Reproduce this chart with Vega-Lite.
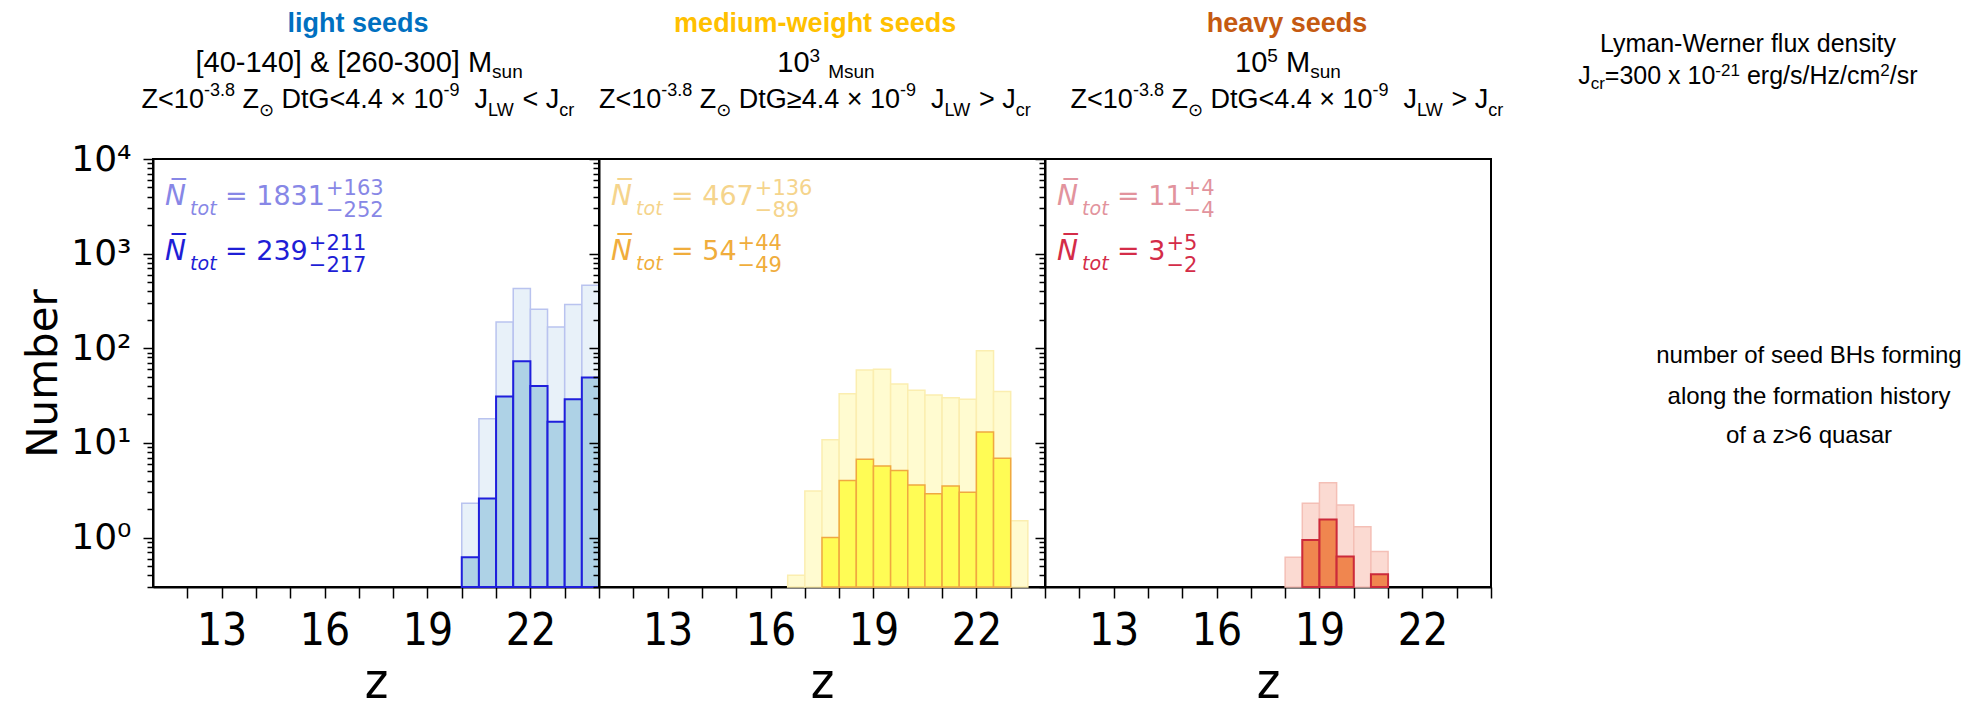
{
  "$schema": "https://vega.github.io/schema/vega-lite/v6.json",
  "background": "white",
  "padding": {"left": 21, "top": 8, "right": 0, "bottom": 0},
  "spacing": 0,
  "bounds": "flush",
  "datasets": {
    "hist": [
      {"seed": "light", "set": "all", "z_lo": 20, "z_hi": 20.5, "number": 2.3},
      {"seed": "light", "set": "all", "z_lo": 20.5, "z_hi": 21, "number": 18},
      {"seed": "light", "set": "all", "z_lo": 21, "z_hi": 21.5, "number": 190},
      {"seed": "light", "set": "all", "z_lo": 21.5, "z_hi": 22, "number": 427},
      {"seed": "light", "set": "all", "z_lo": 22, "z_hi": 22.5, "number": 258},
      {"seed": "light", "set": "all", "z_lo": 22.5, "z_hi": 23, "number": 168},
      {"seed": "light", "set": "all", "z_lo": 23, "z_hi": 23.5, "number": 290},
      {"seed": "light", "set": "all", "z_lo": 23.5, "z_hi": 24, "number": 463},
      {"seed": "light", "set": "sub", "z_lo": 20, "z_hi": 20.5, "number": 0.62},
      {"seed": "light", "set": "sub", "z_lo": 20.5, "z_hi": 21, "number": 2.58},
      {"seed": "light", "set": "sub", "z_lo": 21, "z_hi": 21.5, "number": 31},
      {"seed": "light", "set": "sub", "z_lo": 21.5, "z_hi": 22, "number": 73},
      {"seed": "light", "set": "sub", "z_lo": 22, "z_hi": 22.5, "number": 40},
      {"seed": "light", "set": "sub", "z_lo": 22.5, "z_hi": 23, "number": 16.7},
      {"seed": "light", "set": "sub", "z_lo": 23, "z_hi": 23.5, "number": 29},
      {"seed": "light", "set": "sub", "z_lo": 23.5, "z_hi": 24, "number": 49},
      {"seed": "medium", "set": "all", "z_lo": 16.5, "z_hi": 17, "number": 0.4},
      {"seed": "medium", "set": "all", "z_lo": 17, "z_hi": 17.5, "number": 3.1},
      {"seed": "medium", "set": "all", "z_lo": 17.5, "z_hi": 18, "number": 10.8},
      {"seed": "medium", "set": "all", "z_lo": 18, "z_hi": 18.5, "number": 33},
      {"seed": "medium", "set": "all", "z_lo": 18.5, "z_hi": 19, "number": 59},
      {"seed": "medium", "set": "all", "z_lo": 19, "z_hi": 19.5, "number": 60},
      {"seed": "medium", "set": "all", "z_lo": 19.5, "z_hi": 20, "number": 42},
      {"seed": "medium", "set": "all", "z_lo": 20, "z_hi": 20.5, "number": 36},
      {"seed": "medium", "set": "all", "z_lo": 20.5, "z_hi": 21, "number": 32},
      {"seed": "medium", "set": "all", "z_lo": 21, "z_hi": 21.5, "number": 30},
      {"seed": "medium", "set": "all", "z_lo": 21.5, "z_hi": 22, "number": 29},
      {"seed": "medium", "set": "all", "z_lo": 22, "z_hi": 22.5, "number": 94},
      {"seed": "medium", "set": "all", "z_lo": 22.5, "z_hi": 23, "number": 35},
      {"seed": "medium", "set": "all", "z_lo": 23, "z_hi": 23.5, "number": 1.5},
      {"seed": "medium", "set": "sub", "z_lo": 17.5, "z_hi": 18, "number": 1.0},
      {"seed": "medium", "set": "sub", "z_lo": 18, "z_hi": 18.5, "number": 4.0},
      {"seed": "medium", "set": "sub", "z_lo": 18.5, "z_hi": 19, "number": 6.7},
      {"seed": "medium", "set": "sub", "z_lo": 19, "z_hi": 19.5, "number": 5.7},
      {"seed": "medium", "set": "sub", "z_lo": 19.5, "z_hi": 20, "number": 5.1},
      {"seed": "medium", "set": "sub", "z_lo": 20, "z_hi": 20.5, "number": 3.6},
      {"seed": "medium", "set": "sub", "z_lo": 20.5, "z_hi": 21, "number": 2.9},
      {"seed": "medium", "set": "sub", "z_lo": 21, "z_hi": 21.5, "number": 3.5},
      {"seed": "medium", "set": "sub", "z_lo": 21.5, "z_hi": 22, "number": 3.0},
      {"seed": "medium", "set": "sub", "z_lo": 22, "z_hi": 22.5, "number": 13},
      {"seed": "medium", "set": "sub", "z_lo": 22.5, "z_hi": 23, "number": 6.9},
      {"seed": "heavy", "set": "all", "z_lo": 18, "z_hi": 18.5, "number": 0.62},
      {"seed": "heavy", "set": "all", "z_lo": 18.5, "z_hi": 19, "number": 2.3},
      {"seed": "heavy", "set": "all", "z_lo": 19, "z_hi": 19.5, "number": 3.8},
      {"seed": "heavy", "set": "all", "z_lo": 19.5, "z_hi": 20, "number": 2.2},
      {"seed": "heavy", "set": "all", "z_lo": 20, "z_hi": 20.5, "number": 1.3},
      {"seed": "heavy", "set": "all", "z_lo": 20.5, "z_hi": 21, "number": 0.71},
      {"seed": "heavy", "set": "sub", "z_lo": 18.5, "z_hi": 19, "number": 0.94},
      {"seed": "heavy", "set": "sub", "z_lo": 19, "z_hi": 19.5, "number": 1.55},
      {"seed": "heavy", "set": "sub", "z_lo": 19.5, "z_hi": 20, "number": 0.63},
      {"seed": "heavy", "set": "sub", "z_lo": 20.5, "z_hi": 21, "number": 0.41}
    ]
  },
  "hconcat": [
    {
      "width": 446, "height": 428,
      "data": {"name": "hist"},
      "layer": [
        {"transform": [{"filter": "datum.seed == 'light' && datum.set == 'all'"}],
         "mark": {"type": "bar", "fill": "#e8f1f9", "stroke": "#b9c3ef", "strokeWidth": 1.5},
         "encoding": {
           "x": {"field": "z_lo", "type": "quantitative", "scale": {"domain": [11, 24], "nice": false, "zero": false},
                 "axis": {"title": "z", "labelOverlap": false, "tickCount": 13, "values": [12,13,14,15,16,17,18,19,20,21,22,23,24], "labelExpr": "indexof([13,16,19,22], datum.value) >= 0 ? datum.label : ''"}},
           "x2": {"field": "z_hi"},
           "y": {"field": "number", "type": "quantitative", "scale": {"type": "log", "domain": [0.3, 10000], "nice": false},
                 "axis": {"title": "Number", "labelOverlap": false, "values": [0.3,0.4,0.5,0.6,0.7,0.8,0.9,1,2,3,4,5,6,7,8,9,10,20,30,40,50,60,70,80,90,100,200,300,400,500,600,700,800,900,1000,2000,3000,4000,5000,6000,7000,8000,9000,10000],
                          "labelExpr": "datum.value == 1 ? '10⁰' : datum.value == 10 ? '10¹' : datum.value == 100 ? '10²' : datum.value == 1000 ? '10³' : datum.value == 10000 ? '10⁴' : ''",
                          "tickSize": {"condition": {"test": "datum.value == 1 || datum.value == 10 || datum.value == 100 || datum.value == 1000 || datum.value == 10000", "value": 10}, "value": 6}}},
           "y2": {"datum": 0.3}
         }},
        {"transform": [{"filter": "datum.seed == 'light' && datum.set == 'sub'"}],
         "mark": {"type": "bar", "fill": "#aed2e6", "stroke": "#1f1fdc", "strokeWidth": 2},
         "encoding": {"x": {"field": "z_lo", "type": "quantitative"}, "x2": {"field": "z_hi"}, "y": {"field": "number", "type": "quantitative"}, "y2": {"datum": 0.3}}},
        {"data": {"values": [{}]}, "mark": {"type": "text", "text": "light seeds", "font": "Liberation Sans", "fontSize": 27, "fontWeight": "bold", "fill": "#0070C0", "align": "center", "baseline": "alphabetic"}, "encoding": {"x": {"datum": 16.975}, "y": {"datum": 219900}}},
        {"data": {"values": [{}]}, "mark": {"type": "text", "text": "[40-140] & [260-300] M", "font": "Liberation Sans", "fontSize": 29, "fill": "#000", "align": "left", "baseline": "alphabetic"}, "encoding": {"x": {"datum": 12.239}, "y": {"datum": 83070}}},
        {"data": {"values": [{}]}, "mark": {"type": "text", "text": "sun", "font": "Liberation Sans", "fontSize": 19, "fill": "#000", "align": "left", "baseline": "alphabetic"}, "encoding": {"x": {"datum": 20.883}, "y": {"datum": 71000}}},
        {"data": {"values": [{}]}, "mark": {"type": "text", "text": "Z<10", "font": "Liberation Sans", "fontSize": 27, "fill": "#000", "align": "left", "baseline": "alphabetic"}, "encoding": {"x": {"datum": 10.668}, "y": {"datum": 34580}}},
        {"data": {"values": [{}]}, "mark": {"type": "text", "text": "-3.8", "font": "Liberation Sans", "fontSize": 18, "fill": "#000", "align": "left", "baseline": "alphabetic"}, "encoding": {"x": {"datum": 12.484}, "y": {"datum": 46330}}},
        {"data": {"values": [{}]}, "mark": {"type": "text", "text": "Z", "font": "Liberation Sans", "fontSize": 27, "fill": "#000", "align": "left", "baseline": "alphabetic"}, "encoding": {"x": {"datum": 13.606}, "y": {"datum": 34580}}},
        {"data": {"values": [{}]}, "mark": {"type": "text", "text": "⊙", "font": "DejaVu Sans", "fontSize": 18, "fill": "#000", "align": "left", "baseline": "alphabetic"}, "encoding": {"x": {"datum": 14.087}, "y": {"datum": 28470}}},
        {"data": {"values": [{}]}, "mark": {"type": "text", "text": "DtG<4.4 × 10", "font": "Liberation Sans", "fontSize": 27, "fill": "#000", "align": "left", "baseline": "alphabetic"}, "encoding": {"x": {"datum": 14.745}, "y": {"datum": 34580}}},
        {"data": {"values": [{}]}, "mark": {"type": "text", "text": "-9", "font": "Liberation Sans", "fontSize": 18, "fill": "#000", "align": "left", "baseline": "alphabetic"}, "encoding": {"x": {"datum": 19.47}, "y": {"datum": 46330}}},
        {"data": {"values": [{}]}, "mark": {"type": "text", "text": "J", "font": "Liberation Sans", "fontSize": 27, "fill": "#000", "align": "left", "baseline": "alphabetic"}, "encoding": {"x": {"datum": 20.373}, "y": {"datum": 34580}}},
        {"data": {"values": [{}]}, "mark": {"type": "text", "text": "LW", "font": "Liberation Sans", "fontSize": 18, "fill": "#000", "align": "left", "baseline": "alphabetic"}, "encoding": {"x": {"datum": 20.767}, "y": {"datum": 28470}}},
        {"data": {"values": [{}]}, "mark": {"type": "text", "text": "< J", "font": "Liberation Sans", "fontSize": 27, "fill": "#000", "align": "left", "baseline": "alphabetic"}, "encoding": {"x": {"datum": 21.772}, "y": {"datum": 34580}}},
        {"data": {"values": [{}]}, "mark": {"type": "text", "text": "cr", "font": "Liberation Sans", "fontSize": 18, "fill": "#000", "align": "left", "baseline": "alphabetic"}, "encoding": {"x": {"datum": 22.845}, "y": {"datum": 28470}}},
        {"data": {"values": [{}]}, "mark": {"type": "text", "text": "N̅", "font": "DejaVu Sans", "fontSize": 28, "fontStyle": "italic", "fill": "#8787e6", "align": "left", "baseline": "alphabetic"}, "encoding": {"x": {"datum": 11.35}, "y": {"datum": 3266}}},
        {"data": {"values": [{}]}, "mark": {"type": "text", "text": "tot", "font": "DejaVu Sans", "fontSize": 19, "fontStyle": "italic", "fill": "#8787e6", "align": "left", "baseline": "alphabetic"}, "encoding": {"x": {"datum": 12.08}, "y": {"datum": 2559}}},
        {"data": {"values": [{}]}, "mark": {"type": "text", "text": "= 1831", "font": "DejaVu Sans", "fontSize": 27, "fill": "#8787e6", "align": "left", "baseline": "alphabetic"}, "encoding": {"x": {"datum": 13.1}, "y": {"datum": 3266}}},
        {"data": {"values": [{}]}, "mark": {"type": "text", "text": "+163", "font": "DejaVu Sans", "fontSize": 21, "fill": "#8787e6", "align": "left", "baseline": "alphabetic"}, "encoding": {"x": {"datum": 16.042}, "y": {"datum": 4169}}},
        {"data": {"values": [{}]}, "mark": {"type": "text", "text": "−252", "font": "DejaVu Sans", "fontSize": 21, "fill": "#8787e6", "align": "left", "baseline": "alphabetic"}, "encoding": {"x": {"datum": 16.042}, "y": {"datum": 2438}}},
        {"data": {"values": [{}]}, "mark": {"type": "text", "text": "N̅", "font": "DejaVu Sans", "fontSize": 28, "fontStyle": "italic", "fill": "#1e1ed6", "align": "left", "baseline": "alphabetic"}, "encoding": {"x": {"datum": 11.35}, "y": {"datum": 856.5}}},
        {"data": {"values": [{}]}, "mark": {"type": "text", "text": "tot", "font": "DejaVu Sans", "fontSize": 19, "fontStyle": "italic", "fill": "#1e1ed6", "align": "left", "baseline": "alphabetic"}, "encoding": {"x": {"datum": 12.08}, "y": {"datum": 671}}},
        {"data": {"values": [{}]}, "mark": {"type": "text", "text": "= 239", "font": "DejaVu Sans", "fontSize": 27, "fill": "#1e1ed6", "align": "left", "baseline": "alphabetic"}, "encoding": {"x": {"datum": 13.1}, "y": {"datum": 856.5}}},
        {"data": {"values": [{}]}, "mark": {"type": "text", "text": "+211", "font": "DejaVu Sans", "fontSize": 21, "fill": "#1e1ed6", "align": "left", "baseline": "alphabetic"}, "encoding": {"x": {"datum": 15.541}, "y": {"datum": 1092}}},
        {"data": {"values": [{}]}, "mark": {"type": "text", "text": "−217", "font": "DejaVu Sans", "fontSize": 21, "fill": "#1e1ed6", "align": "left", "baseline": "alphabetic"}, "encoding": {"x": {"datum": 15.541}, "y": {"datum": 639.5}}}
      ]
    },
    {
      "width": 446, "height": 428,
      "data": {"name": "hist"},
      "layer": [
        {"transform": [{"filter": "datum.seed == 'medium' && datum.set == 'all'"}],
         "mark": {"type": "bar", "fill": "#fffbd0", "stroke": "#fbeeb0", "strokeWidth": 1.5},
         "encoding": {
           "x": {"field": "z_lo", "type": "quantitative", "scale": {"domain": [11, 24], "nice": false, "zero": false},
                 "axis": {"title": "z", "labelOverlap": false, "tickCount": 13, "values": [12,13,14,15,16,17,18,19,20,21,22,23,24], "labelExpr": "indexof([13,16,19,22], datum.value) >= 0 ? datum.label : ''"}},
           "x2": {"field": "z_hi"},
           "y": {"field": "number", "type": "quantitative", "scale": {"type": "log", "domain": [0.3, 10000], "nice": false},
                 "axis": {"title": null, "labels": false, "values": [0.3,0.4,0.5,0.6,0.7,0.8,0.9,1,2,3,4,5,6,7,8,9,10,20,30,40,50,60,70,80,90,100,200,300,400,500,600,700,800,900,1000,2000,3000,4000,5000,6000,7000,8000,9000,10000],
                          "tickSize": {"condition": {"test": "datum.value == 1 || datum.value == 10 || datum.value == 100 || datum.value == 1000 || datum.value == 10000", "value": 10}, "value": 6}}},
           "y2": {"datum": 0.3}
         }},
        {"transform": [{"filter": "datum.seed == 'medium' && datum.set == 'sub'"}],
         "mark": {"type": "bar", "fill": "#fffc55", "stroke": "#f0a840", "strokeWidth": 1.5},
         "encoding": {"x": {"field": "z_lo", "type": "quantitative"}, "x2": {"field": "z_hi"}, "y": {"field": "number", "type": "quantitative"}, "y2": {"datum": 0.3}}},
        {"data": {"values": [{}]}, "mark": {"type": "text", "text": "medium-weight seeds", "font": "Liberation Sans", "fontSize": 27, "fontWeight": "bold", "fill": "#FFC000", "align": "center", "baseline": "alphabetic"}, "encoding": {"x": {"datum": 17.3}, "y": {"datum": 219900}}},
        {"data": {"values": [{}]}, "mark": {"type": "text", "text": "10", "font": "Liberation Sans", "fontSize": 29, "fill": "#000", "align": "left", "baseline": "alphabetic"}, "encoding": {"x": {"datum": 16.197}, "y": {"datum": 83070}}},
        {"data": {"values": [{}]}, "mark": {"type": "text", "text": "3", "font": "Liberation Sans", "fontSize": 19, "fill": "#000", "align": "left", "baseline": "alphabetic"}, "encoding": {"x": {"datum": 17.135}, "y": {"datum": 105900}}},
        {"data": {"values": [{}]}, "mark": {"type": "text", "text": "Msun", "font": "Liberation Sans", "fontSize": 19, "fill": "#000", "align": "left", "baseline": "alphabetic"}, "encoding": {"x": {"datum": 17.68}, "y": {"datum": 71000}}},
        {"data": {"values": [{}]}, "mark": {"type": "text", "text": "Z<10", "font": "Liberation Sans", "fontSize": 27, "fill": "#000", "align": "left", "baseline": "alphabetic"}, "encoding": {"x": {"datum": 11.0}, "y": {"datum": 34580}}},
        {"data": {"values": [{}]}, "mark": {"type": "text", "text": "-3.8", "font": "Liberation Sans", "fontSize": 18, "fill": "#000", "align": "left", "baseline": "alphabetic"}, "encoding": {"x": {"datum": 12.816}, "y": {"datum": 46330}}},
        {"data": {"values": [{}]}, "mark": {"type": "text", "text": "Z", "font": "Liberation Sans", "fontSize": 27, "fill": "#000", "align": "left", "baseline": "alphabetic"}, "encoding": {"x": {"datum": 13.938}, "y": {"datum": 34580}}},
        {"data": {"values": [{}]}, "mark": {"type": "text", "text": "⊙", "font": "DejaVu Sans", "fontSize": 18, "fill": "#000", "align": "left", "baseline": "alphabetic"}, "encoding": {"x": {"datum": 14.419}, "y": {"datum": 28470}}},
        {"data": {"values": [{}]}, "mark": {"type": "text", "text": "DtG≥4.4 × 10", "font": "Liberation Sans", "fontSize": 27, "fill": "#000", "align": "left", "baseline": "alphabetic"}, "encoding": {"x": {"datum": 15.077}, "y": {"datum": 34580}}},
        {"data": {"values": [{}]}, "mark": {"type": "text", "text": "-9", "font": "Liberation Sans", "fontSize": 18, "fill": "#000", "align": "left", "baseline": "alphabetic"}, "encoding": {"x": {"datum": 19.774}, "y": {"datum": 46330}}},
        {"data": {"values": [{}]}, "mark": {"type": "text", "text": "J", "font": "Liberation Sans", "fontSize": 27, "fill": "#000", "align": "left", "baseline": "alphabetic"}, "encoding": {"x": {"datum": 20.677}, "y": {"datum": 34580}}},
        {"data": {"values": [{}]}, "mark": {"type": "text", "text": "LW", "font": "Liberation Sans", "fontSize": 18, "fill": "#000", "align": "left", "baseline": "alphabetic"}, "encoding": {"x": {"datum": 21.071}, "y": {"datum": 28470}}},
        {"data": {"values": [{}]}, "mark": {"type": "text", "text": "> J", "font": "Liberation Sans", "fontSize": 27, "fill": "#000", "align": "left", "baseline": "alphabetic"}, "encoding": {"x": {"datum": 22.076}, "y": {"datum": 34580}}},
        {"data": {"values": [{}]}, "mark": {"type": "text", "text": "cr", "font": "Liberation Sans", "fontSize": 18, "fill": "#000", "align": "left", "baseline": "alphabetic"}, "encoding": {"x": {"datum": 23.149}, "y": {"datum": 28470}}},
        {"data": {"values": [{}]}, "mark": {"type": "text", "text": "N̅", "font": "DejaVu Sans", "fontSize": 28, "fontStyle": "italic", "fill": "#f5d48c", "align": "left", "baseline": "alphabetic"}, "encoding": {"x": {"datum": 11.35}, "y": {"datum": 3266}}},
        {"data": {"values": [{}]}, "mark": {"type": "text", "text": "tot", "font": "DejaVu Sans", "fontSize": 19, "fontStyle": "italic", "fill": "#f5d48c", "align": "left", "baseline": "alphabetic"}, "encoding": {"x": {"datum": 12.08}, "y": {"datum": 2559}}},
        {"data": {"values": [{}]}, "mark": {"type": "text", "text": "= 467", "font": "DejaVu Sans", "fontSize": 27, "fill": "#f5d48c", "align": "left", "baseline": "alphabetic"}, "encoding": {"x": {"datum": 13.1}, "y": {"datum": 3266}}},
        {"data": {"values": [{}]}, "mark": {"type": "text", "text": "+136", "font": "DejaVu Sans", "fontSize": 21, "fill": "#f5d48c", "align": "left", "baseline": "alphabetic"}, "encoding": {"x": {"datum": 15.541}, "y": {"datum": 4169}}},
        {"data": {"values": [{}]}, "mark": {"type": "text", "text": "−89", "font": "DejaVu Sans", "fontSize": 21, "fill": "#f5d48c", "align": "left", "baseline": "alphabetic"}, "encoding": {"x": {"datum": 15.541}, "y": {"datum": 2438}}},
        {"data": {"values": [{}]}, "mark": {"type": "text", "text": "N̅", "font": "DejaVu Sans", "fontSize": 28, "fontStyle": "italic", "fill": "#f0ad3c", "align": "left", "baseline": "alphabetic"}, "encoding": {"x": {"datum": 11.35}, "y": {"datum": 856.5}}},
        {"data": {"values": [{}]}, "mark": {"type": "text", "text": "tot", "font": "DejaVu Sans", "fontSize": 19, "fontStyle": "italic", "fill": "#f0ad3c", "align": "left", "baseline": "alphabetic"}, "encoding": {"x": {"datum": 12.08}, "y": {"datum": 671}}},
        {"data": {"values": [{}]}, "mark": {"type": "text", "text": "= 54", "font": "DejaVu Sans", "fontSize": 27, "fill": "#f0ad3c", "align": "left", "baseline": "alphabetic"}, "encoding": {"x": {"datum": 13.1}, "y": {"datum": 856.5}}},
        {"data": {"values": [{}]}, "mark": {"type": "text", "text": "+44", "font": "DejaVu Sans", "fontSize": 21, "fill": "#f0ad3c", "align": "left", "baseline": "alphabetic"}, "encoding": {"x": {"datum": 15.04}, "y": {"datum": 1092}}},
        {"data": {"values": [{}]}, "mark": {"type": "text", "text": "−49", "font": "DejaVu Sans", "fontSize": 21, "fill": "#f0ad3c", "align": "left", "baseline": "alphabetic"}, "encoding": {"x": {"datum": 15.04}, "y": {"datum": 639.5}}}
      ]
    },
    {
      "width": 446, "height": 428,
      "data": {"name": "hist"},
      "layer": [
        {"transform": [{"filter": "datum.seed == 'heavy' && datum.set == 'all'"}],
         "mark": {"type": "bar", "fill": "#fbdad2", "stroke": "#f4bfb6", "strokeWidth": 1.5},
         "encoding": {
           "x": {"field": "z_lo", "type": "quantitative", "scale": {"domain": [11, 24], "nice": false, "zero": false},
                 "axis": {"title": "z", "labelOverlap": false, "tickCount": 13, "values": [12,13,14,15,16,17,18,19,20,21,22,23,24], "labelExpr": "indexof([13,16,19,22], datum.value) >= 0 ? datum.label : ''"}},
           "x2": {"field": "z_hi"},
           "y": {"field": "number", "type": "quantitative", "scale": {"type": "log", "domain": [0.3, 10000], "nice": false},
                 "axis": {"title": null, "labels": false, "values": [0.3,0.4,0.5,0.6,0.7,0.8,0.9,1,2,3,4,5,6,7,8,9,10,20,30,40,50,60,70,80,90,100,200,300,400,500,600,700,800,900,1000,2000,3000,4000,5000,6000,7000,8000,9000,10000],
                          "tickSize": {"condition": {"test": "datum.value == 1 || datum.value == 10 || datum.value == 100 || datum.value == 1000 || datum.value == 10000", "value": 10}, "value": 6}}},
           "y2": {"datum": 0.3}
         }},
        {"transform": [{"filter": "datum.seed == 'heavy' && datum.set == 'sub'"}],
         "mark": {"type": "bar", "fill": "#f0864f", "stroke": "#cc2a3a", "strokeWidth": 2},
         "encoding": {"x": {"field": "z_lo", "type": "quantitative"}, "x2": {"field": "z_hi"}, "y": {"field": "number", "type": "quantitative"}, "y2": {"datum": 0.3}}},
        {"data": {"values": [{}]}, "mark": {"type": "text", "text": "heavy seeds", "font": "Liberation Sans", "fontSize": 27, "fontWeight": "bold", "fill": "#C55A11", "align": "center", "baseline": "alphabetic"}, "encoding": {"x": {"datum": 18.053}, "y": {"datum": 219900}}},
        {"data": {"values": [{}]}, "mark": {"type": "text", "text": "10", "font": "Liberation Sans", "fontSize": 29, "fill": "#000", "align": "left", "baseline": "alphabetic"}, "encoding": {"x": {"datum": 16.541}, "y": {"datum": 83070}}},
        {"data": {"values": [{}]}, "mark": {"type": "text", "text": "5", "font": "Liberation Sans", "fontSize": 19, "fill": "#000", "align": "left", "baseline": "alphabetic"}, "encoding": {"x": {"datum": 17.479}, "y": {"datum": 105900}}},
        {"data": {"values": [{}]}, "mark": {"type": "text", "text": "M", "font": "Liberation Sans", "fontSize": 29, "fill": "#000", "align": "left", "baseline": "alphabetic"}, "encoding": {"x": {"datum": 18.024}, "y": {"datum": 83070}}},
        {"data": {"values": [{}]}, "mark": {"type": "text", "text": "sun", "font": "Liberation Sans", "fontSize": 19, "fill": "#000", "align": "left", "baseline": "alphabetic"}, "encoding": {"x": {"datum": 18.73}, "y": {"datum": 71000}}},
        {"data": {"values": [{}]}, "mark": {"type": "text", "text": "Z<10", "font": "Liberation Sans", "fontSize": 27, "fill": "#000", "align": "left", "baseline": "alphabetic"}, "encoding": {"x": {"datum": 11.746}, "y": {"datum": 34580}}},
        {"data": {"values": [{}]}, "mark": {"type": "text", "text": "-3.8", "font": "Liberation Sans", "fontSize": 18, "fill": "#000", "align": "left", "baseline": "alphabetic"}, "encoding": {"x": {"datum": 13.562}, "y": {"datum": 46330}}},
        {"data": {"values": [{}]}, "mark": {"type": "text", "text": "Z", "font": "Liberation Sans", "fontSize": 27, "fill": "#000", "align": "left", "baseline": "alphabetic"}, "encoding": {"x": {"datum": 14.684}, "y": {"datum": 34580}}},
        {"data": {"values": [{}]}, "mark": {"type": "text", "text": "⊙", "font": "DejaVu Sans", "fontSize": 18, "fill": "#000", "align": "left", "baseline": "alphabetic"}, "encoding": {"x": {"datum": 15.165}, "y": {"datum": 28470}}},
        {"data": {"values": [{}]}, "mark": {"type": "text", "text": "DtG<4.4 × 10", "font": "Liberation Sans", "fontSize": 27, "fill": "#000", "align": "left", "baseline": "alphabetic"}, "encoding": {"x": {"datum": 15.823}, "y": {"datum": 34580}}},
        {"data": {"values": [{}]}, "mark": {"type": "text", "text": "-9", "font": "Liberation Sans", "fontSize": 18, "fill": "#000", "align": "left", "baseline": "alphabetic"}, "encoding": {"x": {"datum": 20.548}, "y": {"datum": 46330}}},
        {"data": {"values": [{}]}, "mark": {"type": "text", "text": "J", "font": "Liberation Sans", "fontSize": 27, "fill": "#000", "align": "left", "baseline": "alphabetic"}, "encoding": {"x": {"datum": 21.451}, "y": {"datum": 34580}}},
        {"data": {"values": [{}]}, "mark": {"type": "text", "text": "LW", "font": "Liberation Sans", "fontSize": 18, "fill": "#000", "align": "left", "baseline": "alphabetic"}, "encoding": {"x": {"datum": 21.845}, "y": {"datum": 28470}}},
        {"data": {"values": [{}]}, "mark": {"type": "text", "text": "> J", "font": "Liberation Sans", "fontSize": 27, "fill": "#000", "align": "left", "baseline": "alphabetic"}, "encoding": {"x": {"datum": 22.85}, "y": {"datum": 34580}}},
        {"data": {"values": [{}]}, "mark": {"type": "text", "text": "cr", "font": "Liberation Sans", "fontSize": 18, "fill": "#000", "align": "left", "baseline": "alphabetic"}, "encoding": {"x": {"datum": 23.923}, "y": {"datum": 28470}}},
        {"data": {"values": [{}]}, "mark": {"type": "text", "text": "N̅", "font": "DejaVu Sans", "fontSize": 28, "fontStyle": "italic", "fill": "#e2939d", "align": "left", "baseline": "alphabetic"}, "encoding": {"x": {"datum": 11.35}, "y": {"datum": 3266}}},
        {"data": {"values": [{}]}, "mark": {"type": "text", "text": "tot", "font": "DejaVu Sans", "fontSize": 19, "fontStyle": "italic", "fill": "#e2939d", "align": "left", "baseline": "alphabetic"}, "encoding": {"x": {"datum": 12.08}, "y": {"datum": 2559}}},
        {"data": {"values": [{}]}, "mark": {"type": "text", "text": "= 11", "font": "DejaVu Sans", "fontSize": 27, "fill": "#e2939d", "align": "left", "baseline": "alphabetic"}, "encoding": {"x": {"datum": 13.1}, "y": {"datum": 3266}}},
        {"data": {"values": [{}]}, "mark": {"type": "text", "text": "+4", "font": "DejaVu Sans", "fontSize": 21, "fill": "#e2939d", "align": "left", "baseline": "alphabetic"}, "encoding": {"x": {"datum": 15.04}, "y": {"datum": 4169}}},
        {"data": {"values": [{}]}, "mark": {"type": "text", "text": "−4", "font": "DejaVu Sans", "fontSize": 21, "fill": "#e2939d", "align": "left", "baseline": "alphabetic"}, "encoding": {"x": {"datum": 15.04}, "y": {"datum": 2438}}},
        {"data": {"values": [{}]}, "mark": {"type": "text", "text": "N̅", "font": "DejaVu Sans", "fontSize": 28, "fontStyle": "italic", "fill": "#d42c48", "align": "left", "baseline": "alphabetic"}, "encoding": {"x": {"datum": 11.35}, "y": {"datum": 856.5}}},
        {"data": {"values": [{}]}, "mark": {"type": "text", "text": "tot", "font": "DejaVu Sans", "fontSize": 19, "fontStyle": "italic", "fill": "#d42c48", "align": "left", "baseline": "alphabetic"}, "encoding": {"x": {"datum": 12.08}, "y": {"datum": 671}}},
        {"data": {"values": [{}]}, "mark": {"type": "text", "text": "= 3", "font": "DejaVu Sans", "fontSize": 27, "fill": "#d42c48", "align": "left", "baseline": "alphabetic"}, "encoding": {"x": {"datum": 13.1}, "y": {"datum": 856.5}}},
        {"data": {"values": [{}]}, "mark": {"type": "text", "text": "+5", "font": "DejaVu Sans", "fontSize": 21, "fill": "#d42c48", "align": "left", "baseline": "alphabetic"}, "encoding": {"x": {"datum": 14.538}, "y": {"datum": 1092}}},
        {"data": {"values": [{}]}, "mark": {"type": "text", "text": "−2", "font": "DejaVu Sans", "fontSize": 21, "fill": "#d42c48", "align": "left", "baseline": "alphabetic"}, "encoding": {"x": {"datum": 14.538}, "y": {"datum": 639.5}}},
        {"data": {"values": [{}]}, "mark": {"type": "text", "text": "Lyman-Werner flux density", "font": "Liberation Sans", "fontSize": 25, "fill": "#000", "align": "center", "baseline": "alphabetic"}, "encoding": {"x": {"datum": 31.49}, "y": {"datum": 135300}}},
        {"data": {"values": [{}]}, "mark": {"type": "text", "text": "J", "font": "Liberation Sans", "fontSize": 25, "fill": "#000", "align": "left", "baseline": "alphabetic"}, "encoding": {"x": {"datum": 26.541}, "y": {"datum": 62100}}},
        {"data": {"values": [{}]}, "mark": {"type": "text", "text": "cr", "font": "Liberation Sans", "fontSize": 17, "fill": "#000", "align": "left", "baseline": "alphabetic"}, "encoding": {"x": {"datum": 26.905}, "y": {"datum": 54950}}},
        {"data": {"values": [{}]}, "mark": {"type": "text", "text": "=300 x 10", "font": "Liberation Sans", "fontSize": 25, "fill": "#000", "align": "left", "baseline": "alphabetic"}, "encoding": {"x": {"datum": 27.319}, "y": {"datum": 62100}}},
        {"data": {"values": [{}]}, "mark": {"type": "text", "text": "-21", "font": "Liberation Sans", "fontSize": 17, "fill": "#000", "align": "left", "baseline": "alphabetic"}, "encoding": {"x": {"datum": 30.54}, "y": {"datum": 75350}}},
        {"data": {"values": [{}]}, "mark": {"type": "text", "text": "erg/s/Hz/cm", "font": "Liberation Sans", "fontSize": 25, "fill": "#000", "align": "left", "baseline": "alphabetic"}, "encoding": {"x": {"datum": 31.461}, "y": {"datum": 62100}}},
        {"data": {"values": [{}]}, "mark": {"type": "text", "text": "2", "font": "Liberation Sans", "fontSize": 17, "fill": "#000", "align": "left", "baseline": "alphabetic"}, "encoding": {"x": {"datum": 35.349}, "y": {"datum": 75350}}},
        {"data": {"values": [{}]}, "mark": {"type": "text", "text": "/sr", "font": "Liberation Sans", "fontSize": 25, "fill": "#000", "align": "left", "baseline": "alphabetic"}, "encoding": {"x": {"datum": 35.626}, "y": {"datum": 62100}}},
        {"data": {"values": [{}]}, "mark": {"type": "text", "text": "number of seed BHs forming", "font": "Liberation Sans", "fontSize": 24, "fill": "#000", "align": "center", "baseline": "alphabetic"}, "encoding": {"x": {"datum": 33.268}, "y": {"datum": 69.9}}},
        {"data": {"values": [{}]}, "mark": {"type": "text", "text": "along the formation history", "font": "Liberation Sans", "fontSize": 24, "fill": "#000", "align": "center", "baseline": "alphabetic"}, "encoding": {"x": {"datum": 33.268}, "y": {"datum": 25.8}}},
        {"data": {"values": [{}]}, "mark": {"type": "text", "text": "of a z>6 quasar", "font": "Liberation Sans", "fontSize": 24, "fill": "#000", "align": "center", "baseline": "alphabetic"}, "encoding": {"x": {"datum": 33.268}, "y": {"datum": 9.97}}}
      ]
    }
  ],
  "config": {
    "view": {"stroke": "#000", "strokeWidth": 2},
    "axis": {"domainColor": "#000", "domainWidth": 2, "tickColor": "#000", "tickWidth": 1.5, "labelColor": "#000", "titleColor": "#000", "titleFontWeight": "normal", "grid": false, "labelOverlap": false, "labelFlush": false},
    "axisX": {"tickCount": 13, "labelFont": "DejaVu Sans Condensed", "labelFontSize": 44, "labelBaseline": "alphabetic", "labelPadding": 46, "tickSize": 11, "titleFont": "DejaVu Sans Condensed", "titleFontSize": 50, "titleBaseline": "alphabetic", "titleY": 110},
    "axisY": {"labelFont": "DejaVu Sans", "labelFontSize": 36, "labelPadding": 12, "titleFont": "DejaVu Sans", "titleFontSize": 42, "titlePadding": 5}
  }
}
